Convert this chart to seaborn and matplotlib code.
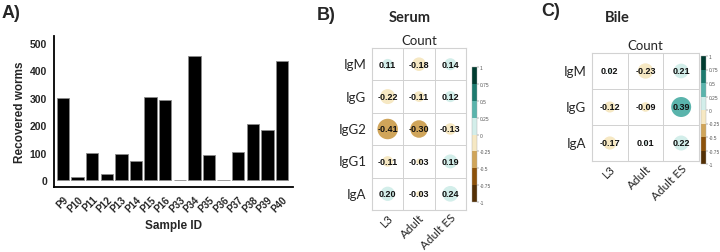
import numpy as np
import pandas as pd
import matplotlib
matplotlib.use('Agg')
import matplotlib.pyplot as plt
import seaborn as sns
from matplotlib.colors import ListedColormap, BoundaryNorm

# panel A data
samples = ['P9', 'P10', 'P11', 'P12', 'P13', 'P14', 'P15', 'P16',
           'P33', 'P34', 'P35', 'P36', 'P37', 'P38', 'P39', 'P40']
worms = [300, 12, 98, 23, 95, 70, 303, 292, 2, 453, 92, 2, 104, 205, 183, 435]

# correlation panels
cols = ['L3', 'Adult', 'Adult ES']
serum_rows = ['IgM', 'IgG', 'IgG2', 'IgG1', 'IgA']
serum_r = [[0.11, -0.18, 0.14],
           [-0.22, -0.11, 0.12],
           [-0.41, -0.30, -0.13],
           [-0.11, -0.03, 0.19],
           [0.20, -0.03, 0.24]]
bile_rows = ['IgM', 'IgG', 'IgA']
bile_r = [[0.02, -0.23, 0.21],
          [-0.12, -0.09, 0.39],
          [-0.17, 0.01, 0.22]]

bins = [-1, -0.75, -0.5, -0.25, 0, 0.25, 0.5, 0.75, 1]
pal = ['#543005', '#8c510a', '#d0a55a', '#f6e8c3',
       '#d3eeea', '#5ab4ac', '#1d7a6e', '#003c30']
cmap = ListedColormap(pal)
norm = BoundaryNorm(bins, cmap.N)

W, H = 720, 253
fig = plt.figure(figsize=(W / 100, H / 100), dpi=100)
sns.set_style('white')
plt.rcParams['font.family'] = ['Liberation Sans', 'DejaVu Sans']


def px(x0, y0, x1, y1):
    return [x0 / W, 1 - y1 / H, (x1 - x0) / W, (y1 - y0) / H]


# ---------- A ----------
ax = fig.add_axes(px(54, 37, 293, 188))
sns.barplot(x=samples, y=worms, color='black', saturation=1, width=0.85,
            edgecolor='#8a8a8a', linewidth=0.6, ax=ax)
ax.set_xlim(-0.62, 15.75)
ax.set_ylim(-25, 525)
ax.set_yticks([0, 100, 200, 300, 400, 500])
sns.despine(ax=ax)
for s in ['left', 'bottom']:
    ax.spines[s].set_linewidth(1.3)
    ax.spines[s].set_color('black')
ax.tick_params(axis='both', direction='out', length=3.5, width=1.2, color='black',
               labelsize=7.5, pad=1.5)
for t in ax.get_yticklabels():
    t.set_fontweight('bold')
ax.set_xticks(range(len(samples)))
ax.set_xticklabels(samples, rotation=45, ha='right', rotation_mode='anchor',
                   fontsize=7, fontweight='bold')
ax.set_ylabel('Recovered worms', fontsize=8.5, fontweight='bold', labelpad=3)
ax.set_xlabel('Sample ID', fontsize=8.5, fontweight='bold', labelpad=4)
fig.text(2 / W, 1 - 14 / H, 'A)', fontsize=13, fontweight='bold', va='center')


def corr_panel(box, cbox, rows, vals, title, tx, letter, lx, cy):
    a = fig.add_axes(px(*box))
    zero = pd.DataFrame(np.zeros((len(rows), len(cols))), index=rows, columns=cols)
    sns.heatmap(zero, cmap=ListedColormap(['white']), cbar=False, linewidths=0.6,
                linecolor='#d2d2d2', ax=a)
    for s in a.spines.values():
        s.set_visible(True)
        s.set_color('#d2d2d2')
        s.set_linewidth(0.8)
    recs = []
    for i, r in enumerate(rows):
        for j, c in enumerate(cols):
            recs.append({'x': j + 0.5, 'y': i + 0.5, 'r': vals[i][j],
                         'a': abs(vals[i][j])})
    df = pd.DataFrame(recs)
    df['bin'] = np.digitize(df['r'], bins[1:-1])
    # circle area proportional to |r|
    sns.scatterplot(data=df, x='x', y='y', hue='bin', palette=dict(enumerate(pal)),
                    size='a', sizes=(0, 531), size_norm=(0, 1),
                    legend=False, linewidth=0, ax=a)
    for _, rr in df.iterrows():
        a.text(rr['x'], rr['y'], f"{rr['r']:.2f}", ha='center', va='center',
               fontsize=6.5, fontweight='bold', color='#111111')
    a.set_xlim(0, len(cols))
    a.set_ylim(len(rows), 0)
    a.set_xlabel('')
    a.set_ylabel('')
    a.set_xticks([0.5, 1.5, 2.5])
    a.set_xticklabels(cols, rotation=45, ha='right', rotation_mode='anchor',
                      fontsize=8.5, family='Lato')
    a.set_yticks(np.arange(len(rows)) + 0.5)
    a.set_yticklabels(rows, rotation=0, fontsize=9.5, family='Lato')
    a.tick_params(axis='y', length=0, pad=4)
    a.tick_params(axis='x', length=0, pad=1)
    a.set_title('Count', fontsize=9.5, family='Lato', pad=3)
    fig.text(tx / W, 1 - 18 / H, title, fontsize=10.5, fontweight='bold',
             ha='center', va='center', family='Lato')
    fig.text(lx / W, 1 - cy / H, letter, fontsize=13, fontweight='bold', va='center')

    ca = fig.add_axes(px(*cbox))
    cb = matplotlib.colorbar.ColorbarBase(ca, cmap=cmap, norm=norm, ticks=bins)
    cb.outline.set_linewidth(0.3)
    cb.outline.set_edgecolor('#aaaaaa')
    cb.ax.set_yticklabels(['-1', '-0.75', '-0.5', '-0.25', '0', '0.25', '0.5', '0.75', '1'])
    ca.tick_params(labelsize=3.5, colors='#555555', length=1.2, width=0.3, pad=0.5)


corr_panel((372, 49, 466, 211), (472, 68, 477, 203), serum_rows, serum_r,
           'Serum', 410, 'B)', 317, 15)
corr_panel((592, 54, 699, 162), (701, 57, 706, 165), bile_rows, bile_r,
           'Bile', 617, 'C)', 541, 12)

fig.savefig('out.png', dpi=100)
